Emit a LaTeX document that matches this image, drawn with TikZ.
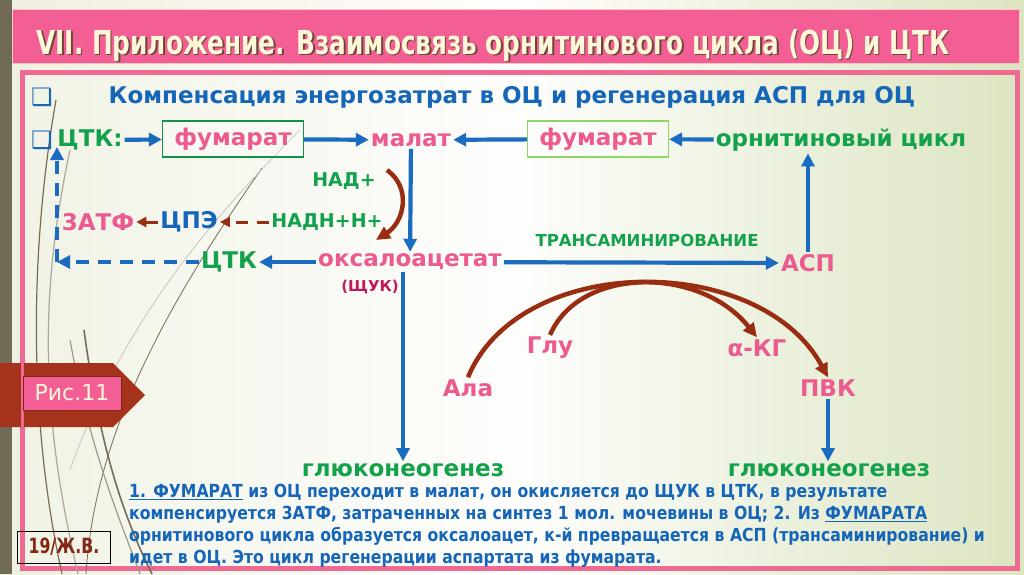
\documentclass[tikz,border=0pt]{standalone}
\usepackage{fontspec}
\setmainfont{DejaVu Sans}
\newfontfamily\condfont[FakeStretch=0.75]{DejaVu Sans}
\newfontfamily\notefont[FakeStretch=0.87]{DejaVu Sans}
\usetikzlibrary{arrows.meta}

\definecolor{stripgray}{HTML}{716A55}
\definecolor{titlepink}{HTML}{F35F94}
\definecolor{framepink}{HTML}{EE6A93}
\definecolor{cream}{HTML}{FFF7D8}
\definecolor{shade}{HTML}{6B4536}
\definecolor{txtpink}{HTML}{EC5B8F}
\definecolor{txtgreen}{HTML}{13A24B}
\definecolor{txtblue}{HTML}{1565B8}
\definecolor{arrblue}{HTML}{1B6CC0}
\definecolor{arrbrown}{HTML}{992D12}
\definecolor{shukred}{HTML}{C2185B}
\definecolor{tagred}{HTML}{A5321A}
\definecolor{decoline}{HTML}{766C56}
\definecolor{bgleft}{HTML}{EEF0E0}
\definecolor{bgright}{HTML}{DCE5C2}

\begin{document}
\begin{tikzpicture}[x=1pt,y=-1pt,
    lbl/.style={font=\bfseries\fontsize{23}{25}\selectfont, inner sep=2pt},
    pinkl/.style={lbl, text=txtpink},
    greenl/.style={lbl, text=txtgreen},
    bluel/.style={lbl, text=txtblue},
    fumbox/.style={pinkl, minimum width=141pt, minimum height=36pt, fill=white, fill opacity=0.25, text opacity=1, line width=1.2pt},
    flow/.style={draw=arrblue, line width=4.2pt, -{Triangle[length=13pt,width=13pt]}},
    loopflow/.style={flow, dash pattern=on 13pt off 9pt},
    redox/.style={draw=arrbrown, line width=4.5pt, -{Triangle[length=14pt,width=13pt]}},
    etc/.style={draw=arrbrown, line width=3pt, -{Triangle[length=10pt,width=10pt]}},
    deco/.style={draw=decoline, line width=1.2pt}]

% slide background
\useasboundingbox (0,0) rectangle (1024,574);
\shade[left color=bgleft, right color=bgright, middle color=white!94!bgleft] (0,0) rectangle (1024,574);
\fill[stripgray] (0,0) rectangle (12,574);

% title bar
\fill[titlepink] (12,9) rectangle (1019,63);
\draw[cream!70!titlepink, line width=1pt] (12,9) rectangle (1019,63);
\node[text=shade, font=\condfont\bfseries\fontsize{33}{36}\selectfont, anchor=west] at (34.5,46.5)
  {VII. Приложение. Взаимосвязь орнитинового цикла (ОЦ) и ЦТК};
\node (title) [text=cream, font=\condfont\bfseries\fontsize{33}{36}\selectfont, anchor=west] at (33,45)
  {VII. Приложение. Взаимосвязь орнитинового цикла (ОЦ) и ЦТК};

% content frame
\shade[left color=bgleft!80!white, right color=bgright, middle color=white!90!bgleft] (22,72) rectangle (1017,568);
\draw[framepink, line width=5pt] (22,72) rectangle (1017,568);

% left decoration
\draw[deco] (62,574) .. controls (30,430) and (28,260) .. (56,100);
\draw[deco, decoline!60] (78,574) .. controls (42,420) and (38,300) .. (70,150);
\draw[deco, line width=0.8pt] (86,574) .. controls (95,430) and (170,300) .. (262,168);
\draw[deco, decoline!40, line width=0.8pt] (70,470) .. controls (120,330) and (200,230) .. (300,130);
\draw[deco, line width=1.6pt] (84,330) .. controls (100,450) and (125,520) .. (152,574);
\draw[deco, decoline!70] (70,340) .. controls (90,450) and (120,520) .. (140,574);

% figure tag
\fill[tagred] (0,363) -- (113,363) -- (145,395) -- (113,427) -- (0,427) -- cycle;
\draw[framepink, line width=3pt] (22,363) -- (22,427);
\node (fig) [fill=titlepink, draw=tagred!80!black, minimum width=98pt, minimum height=34pt,
  text=cream, font=\fontsize{22}{24}\selectfont] at (72,393) {Рис.11};
\node (sign) [draw=black, line width=0.8pt, minimum width=93pt, minimum height=32pt,
  text=tagred!80!black, font=\condfont\bfseries\fontsize{21}{22}\selectfont] at (64,547) {19/Ж.В.};

% heading
\node (bulA) [text=txtblue, font=\fontsize{24}{24}\selectfont] at (42,97) {❑};
\node (head) [bluel] at (512,97)
  {Компенсация энергозатрат в ОЦ и регенерация АСП для ОЦ};

% scheme
\node (bulB) [text=txtblue, font=\fontsize{24}{24}\selectfont] at (42,140) {❑};
\node (ctkA) [greenl] at (90,140) {ЦТК:};
\node (fumA) [fumbox, draw=txtgreen!90!black] at (233,139) {фумарат};
\node (mal)  [pinkl] at (411,140) {малат};
\node (fumB) [fumbox, draw=green!45!olive!60!white] at (598,139) {фумарат};
\node (orn)  [greenl] at (841,140) {орнитиновый цикл};
\node (nad)  [greenl, font=\bfseries\fontsize{19}{20}\selectfont] at (344,181) {НАД+};
\node (nadh) [greenl, font=\bfseries\fontsize{19}{20}\selectfont] at (327,222) {НАДН+Н+};
\node (cpe)  [bluel] at (189,222) {ЦПЭ};
\node (atf)  [pinkl] at (98,222) {3АТФ};
\node (ctkB) [greenl] at (229,262) {ЦТК};
\node (oxa)  [pinkl] at (410,262) {оксалоацетат};
\node (shuk) [lbl, text=shukred, font=\bfseries\fontsize{15}{16}\selectfont] at (370,287) {(ЩУК)};
\node (trans) [greenl, font=\bfseries\fontsize{16.5}{18}\selectfont] at (647,240) {ТРАНСАМИНИРОВАНИЕ};
\node (asp)  [pinkl] at (808,263) {АСП};
\node (glu)  [pinkl] at (550,348) {Глу};
\node (akg)  [pinkl] at (757,348) {α-КГ};
\node (ala)  [pinkl] at (468,388) {Ала};
\node (pvk)  [pinkl] at (828,388) {ПВК};
\node (gngA) [greenl] at (403,470) {глюконеогенез};
\node (gngB) [greenl] at (829,470) {глюконеогенез};

\coordinate (nadS) at (387,170);
\coordinate (nadE) at (376,240);
\coordinate (loopC) at (57,262);
\coordinate (loopT) at (57,147);

\draw[flow] (ctkA) -- (fumA);
\draw[flow] (fumA) -- (mal);
\draw[flow] (fumB) -- (mal);
\draw[flow] (orn) -- (fumB);
\draw[flow] (mal) -- (oxa);
\draw[flow] (oxa) -- (ctkB);
\draw[flow] (oxa.south -| gngA.north) -- (gngA);
\draw[flow] (oxa) -- (asp);
\draw[flow] (asp.north) -- (asp.north |- orn.south);
\draw[flow] (pvk) -- (gngB.north -| pvk);
\draw[loopflow] (ctkB) -- (loopC);
\draw[loopflow] (loopC) -- (loopT);

\draw[redox] (nadS) .. controls (412,188) and (404,222) .. (nadE);
\draw[etc, dash pattern=on 12pt off 9pt] (nadh) -- (cpe);
\draw[etc] (cpe) -- (atf);
\draw[redox] (ala.north) .. controls (520,252) and (760,252) .. (pvk.north);
\draw[redox] (glu.north) .. controls (580,266) and (700,266) .. (akg.north);

% note
\node (note) [anchor=north west, inner sep=0pt, align=left, text=txtblue,
  font=\notefont\bfseries\fontsize{18}{22}\selectfont] at (129,484)
  {\underline{1. ФУМАРАТ} из ОЦ переходит в малат, он окисляется до ЩУК в ЦТК, в результате\\
   компенсируется 3АТФ, затраченных на синтез 1 мол. мочевины в ОЦ; 2. Из \underline{ФУМАРАТА}\\
   орнитинового цикла образуется оксалоацет, к-й превращается в АСП (трансаминирование) и\\
   идет в ОЦ. Это цикл регенерации аспартата из фумарата.};
\end{tikzpicture}
\end{document}
